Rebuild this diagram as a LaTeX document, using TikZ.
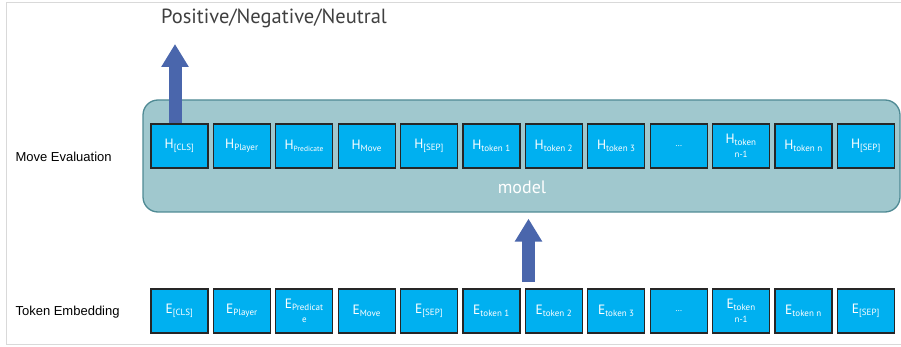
\documentclass[tikz,border=0pt]{standalone}
\usepackage{fontspec}
\setmainfont{Liberation Sans}
\newfontfamily\ptfont{PT Sans}
\usetikzlibrary{arrows.meta,calc}
\definecolor{tokcyan}{HTML}{00B0F0}
\definecolor{modelteal}{HTML}{A0C8CE}
\definecolor{modeledge}{HTML}{4F8A94}
\definecolor{arrowblue}{HTML}{4A66AC}
\definecolor{framegray}{HTML}{D9D9D9}
\newcommand\subsz{\fontsize{9}{9}\selectfont}
\newcommand\hs[1]{H\textsubscript{\subsz #1}}
\newcommand\es[1]{E\textsubscript{\subsz #1}}
\tikzset{tok/.style = {draw=black!85, fill=tokcyan, line width=1.3pt, rectangle, minimum width=57pt, minimum height=44pt, inner sep=1pt, text=white, align=center, font=\ptfont\fontsize{13.5}{12}\selectfont},
         model/.style={draw=modeledge, fill=modelteal, line width=1.3pt, rounded corners=15pt, minimum width=757pt, minimum height=112pt},
         bigarrow/.style={draw=arrowblue, line width=13pt, -{Triangle[width=26pt,length=23pt]}}}

\begin{document}
\begin{tikzpicture}[x=1pt,y=-1pt]
    \useasboundingbox(0,0)rectangle(901,347);
    \draw[framegray,line width=1pt](6.5,2.5)rectangle(920,344.5);

    \node[model](model)at(521.5,156){};
    \node[text=white,font=\ptfont\fontsize{18}{20}\selectfont](mtext)at(522,187){model};
    \node[anchor=west,font=\fontsize{13}{15}\selectfont](mlabel)at(12,157){Move Evaluation};
    \node[anchor=west,font=\fontsize{13}{15}\selectfont](elabel)at(12,312){Token Embedding};
    \node[text=black!75,font=\ptfont\fontsize{20.5}{22}\selectfont](title)at(274,18){Positive/Negative/Neutral};

    \foreach \lab [count=\i from 0] in {\hs{[CLS]},\hs{Player},{H\textsubscript{\fontsize{7.5}{8}\selectfont Predicate}},\hs{Move},\hs{[SEP]},\hs{token 1},\hs{token 2},\hs{token 3},{\subsz\dots},{\hs{token}\\[2pt]{\subsz n-1}},\hs{token n},\hs{[SEP]}}
        \node[tok](h\i)at(179.5+62.4*\i,146){\lab};
    \foreach \lab [count=\i from 0] in {\es{[CLS]},\es{Player},{\es{Predicat}\\[2pt]{\subsz e}},\es{Move},\es{[SEP]},\es{token 1},\es{token 2},\es{token 3},{\subsz\dots},{\es{token}\\[2pt]{\subsz n-1}},\es{token n},\es{[SEP]}}
        \node[tok](e\i)at(179.5+62.4*\i,311){\lab};

    \coordinate(out)at(175,44);
    \draw[bigarrow]($(h0.north)+(-4.5,0)$)--(out);
    \coordinate(ein)at(528.5,282);
    \draw[bigarrow,shorten >=6pt](ein)--(ein|-model.south);
\end{tikzpicture}
\end{document}
